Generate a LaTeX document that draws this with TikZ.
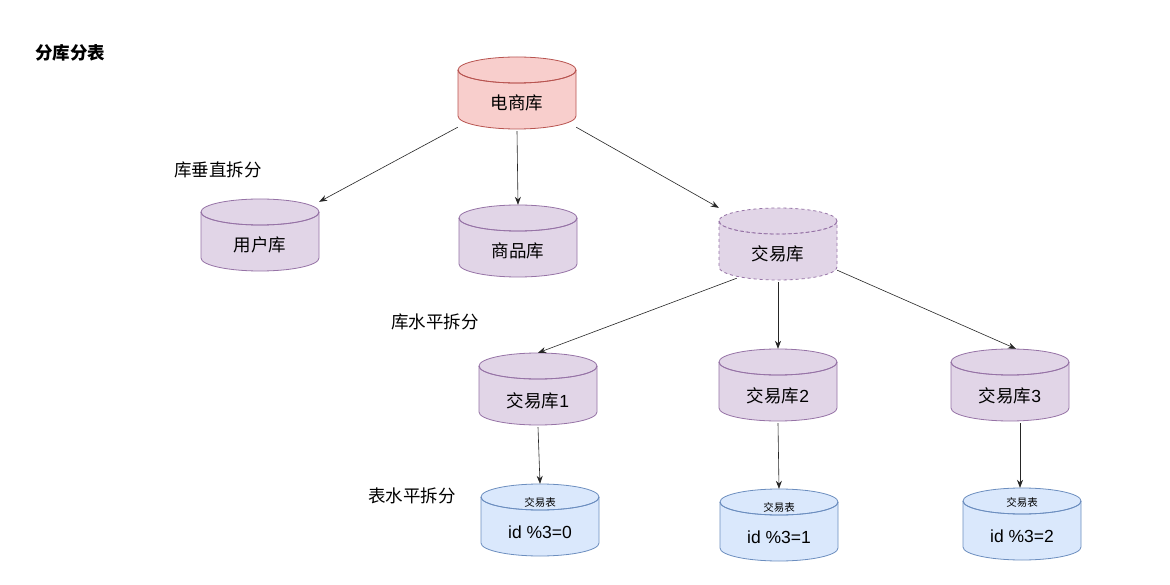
\documentclass[tikz,border=0pt]{standalone}
\usepackage{fontspec}
\setmainfont{Liberation Sans}
\newfontfamily\cjk{Noto Sans CJK SC}
\usetikzlibrary{arrows.meta,calc}
\definecolor{redfill}{HTML}{F8CECC}
\definecolor{redline}{HTML}{B85450}
\definecolor{purfill}{HTML}{E1D5E7}
\definecolor{purline}{HTML}{9673A6}
\definecolor{bluefill}{HTML}{DAE8FC}
\definecolor{blueline}{HTML}{6C8EBF}
\tikzset{
  lbl/.style={font=\fontsize{17.5}{19}\selectfont, inner sep=0pt},
  small/.style={font=\fontsize{10.5}{12}\selectfont, inner sep=0pt},
  arr/.style={-{Stealth[length=8pt,width=6pt]}, line width=0.6pt, black!85},
  dbbox/.style={minimum width=118pt, minimum height=72pt, inner sep=0pt, draw=none},
}
% #1 cx, #2 cy (negative), #3 fill, #4 line options
\newcommand\dbcyl[4]{%
  \fill[#3] (#1-59,#2+23) -- (#1-59,#2-23) arc[start angle=180,end angle=360,x radius=59,y radius=13]
     -- (#1+59,#2+23) arc[start angle=0,end angle=180,x radius=59,y radius=13] -- cycle;
  \draw[line width=0.8pt,#4] (#1-59,#2+23) -- (#1-59,#2-23) arc[start angle=180,end angle=360,x radius=59,y radius=13]
     -- (#1+59,#2+23);
  \draw[line width=0.8pt,#4] (#1,#2+23) ellipse[x radius=59,y radius=13];
  \draw[line width=0.8pt,#4] (#1-59,#2+23) arc[start angle=180,end angle=360,x radius=59,y radius=13];
}
\begin{document}
\begin{tikzpicture}[x=1pt,y=1pt]
\useasboundingbox (0,0) rectangle (1170,-585);
\fill[white] (0,0) rectangle (1170,-585);

% cylinders
\dbcyl{517}{-93}{redfill}{redline}
\node[dbbox] (db) at (517,-93) {};
\node[lbl] (db-t) at (517,-103) {\cjk 电商库};

\dbcyl{260}{-235}{purfill}{purline}
\node[dbbox] (user) at (260,-235) {};
\node[lbl] (user-t) at (260,-245) {\cjk 用户库};

\dbcyl{518}{-241}{purfill}{purline}
\node[dbbox] (goods) at (518,-241) {};
\node[lbl] (goods-t) at (518,-251) {\cjk 商品库};

\dbcyl{778}{-244}{purfill}{purline,dash pattern=on 3pt off 3pt}
\node[dbbox] (trade) at (778,-244) {};
\node[lbl] (trade-t) at (778,-254) {\cjk 交易库};

\dbcyl{538}{-389}{purfill}{purline}
\node[dbbox] (tr1) at (538,-389) {};
\node[lbl] (tr1-t) at (538,-401) {{\cjk 交易库}1};

\dbcyl{778}{-385}{purfill}{purline}
\node[dbbox] (tr2) at (778,-385) {};
\node[lbl] (tr2-t) at (778,-396) {{\cjk 交易库}2};

\dbcyl{1010}{-385}{purfill}{purline}
\node[dbbox] (tr3) at (1010,-385) {};
\node[lbl] (tr3-t) at (1010,-396) {{\cjk 交易库}3};

\dbcyl{540}{-520}{bluefill}{blueline}
\node[dbbox] (t1) at (540,-520) {};
\node[small] (t1-a) at (540,-502) {\cjk 交易表};
\node[lbl] (t1-b) at (540,-532) {id \%3=0};

\dbcyl{779}{-525}{bluefill}{blueline}
\node[dbbox] (t2) at (779,-525) {};
\node[small] (t2-a) at (779,-507) {\cjk 交易表};
\node[lbl] (t2-b) at (779,-537) {id \%3=1};

\dbcyl{1022}{-524}{bluefill}{blueline}
\node[dbbox] (t3) at (1022,-524) {};
\node[small] (t3-a) at (1022,-502) {\cjk 交易表};
\node[lbl] (t3-b) at (1022,-536) {id \%3=2};

% labels
\node[lbl] (title) at (70,-53) {\cjk\bfseries 分库分表};
\node[lbl] (l1) at (218,-170) {\cjk 库垂直拆分};
\node[lbl] (l2) at (435,-322) {\cjk 库水平拆分};
\node[lbl] (l3) at (412,-496) {\cjk 表水平拆分};

% connectors
\draw[arr] ($(db.south west)+(0,2)$) -- ($(user.north east)+(0,-3)$);
\draw[arr] ($(db.south)+(0,-2)$) -- (goods.north);
\draw[arr] ($(db.south east)+(0,2)$) -- (trade.north west);
\draw[arr] ($(trade.south west)+(18,2)$) -- (tr1.north);
\draw[arr] ($(trade.south)+(0,-2)$) -- (tr2.north);
\draw[arr] ($(trade.south east)+(0,10)$) -- ($(tr3.north)+(6,0)$);
\draw[arr] ($(tr1.south)+(0,-2)$) -- (t1.north);
\draw[arr] ($(tr2.south)+(0,-2)$) -- (t2.north);
\draw[arr] ($(tr3.south)+(10,-2)$) -- ($(t3.north)+(-2,0)$);
\end{tikzpicture}
\end{document}
